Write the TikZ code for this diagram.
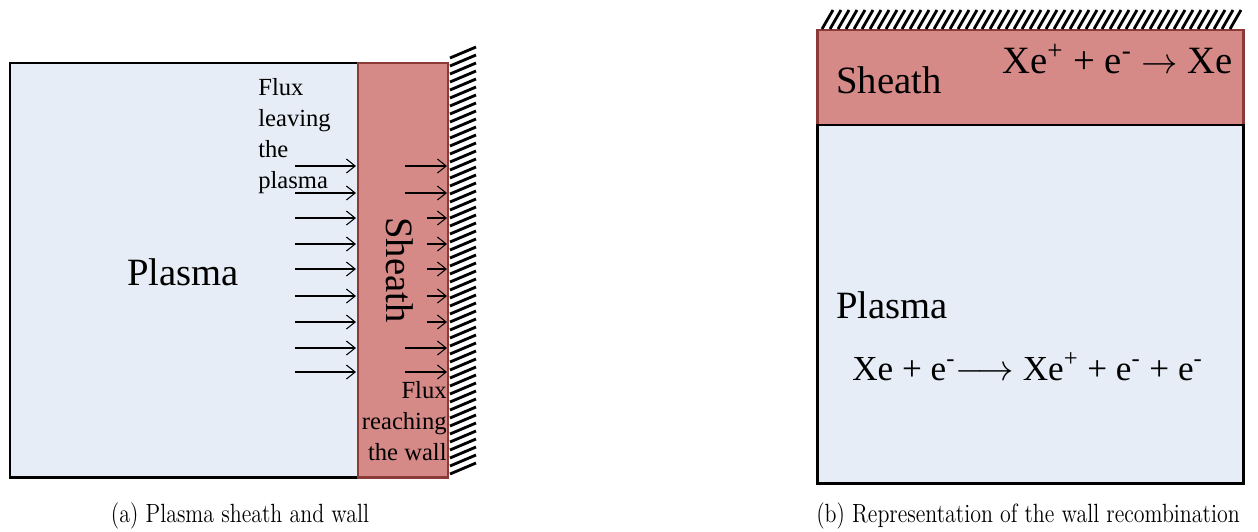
\documentclass[tikz,border=0pt]{standalone}
\usepackage{fontspec}
\usepackage{graphicx}
\newfontfamily\timesfont{Liberation Serif}
\usetikzlibrary{arrows.meta}
\definecolor{plasmablue}{RGB}{230,237,246}
\definecolor{sheathred}{RGB}{214,138,136}
\definecolor{sheathedge}{RGB}{140,58,56}
\tikzset{
	x=0.02cm, y=-0.02cm,
	>={Straight Barb[length=5pt,width=8pt]},
	plasma/.style={fill=plasmablue, draw=black, line width=1.7pt},
	sheath/.style={fill=sheathred, draw=sheathedge, line width=1.7pt},
	hatch/.style={line width=1.6pt},
	flux/.style={->, line width=0.6pt},
	big/.style={font=\timesfont\fontsize{22}{26}\selectfont, inner sep=0pt},
	small/.style={font=\timesfont\fontsize{14}{17.6}\selectfont, inner sep=0pt},
	caption/.style={font=\fontsize{12.5}{15}\selectfont}}

\begin{document}
\begin{tikzpicture}

		\useasboundingbox (0,0) rectangle (1258,531);

		% (a) plasma, sheath and wall
		\draw[plasma] (10,63) rectangle (358,477);
		\draw[sheath] (358,63) rectangle (448,477);
		\foreach \y in {58,66,...,474}
			\draw[hatch] (450,\y) -- (476,\y-11);

		\foreach \y [count=\i] in {166,193,218,244,269,296,322,348,372} {
			\coordinate (la\i) at (295,\y);
			\coordinate (lb\i) at (356,\y);
			\draw[flux] (la\i) -- (lb\i);
		}
		\foreach \y/\s [count=\i] in {166/405,193/405,218/427,244/427,269/427,296/427,322/427,348/405,372/405} {
			\coordinate (ra\i) at (\s,\y);
			\coordinate (rb\i) at (447,\y);
			\draw[flux] (ra\i) -- (rb\i);
		}

		\node[big] (plasmaA) at (183,272) {Plasma};
		\node[big, rotate=-90] (sheathA) at (400,270) {Sheath};
		\node[small, align=left, anchor=north west] (leaving) at (258,78) {Flux\\leaving\\the\\plasma};
		\node[small, align=right, anchor=north east] (reaching) at (447,381) {Flux\\reaching\\the wall};

		% (b) wall recombination
		\draw[sheath] (817,30) rectangle (1243,125);
		\draw[plasma] (817,125) rectangle (1243,483);
		\foreach \x in {822,830,...,1234}
			\draw[hatch] (\x,29) -- (\x+11,10);

		\node[big, anchor=base west] (sheathB) at (836,93) {Sheath};
		\node[big, anchor=base west] (recomb) at (1002,73) {Xe\textsuperscript{+} + e\textsuperscript{-} $\rightarrow$\ Xe};
		\node[big, anchor=base west] (plasmaB) at (836,318) {Plasma};
		\node[big, anchor=base west, font=\timesfont\fontsize{20}{24}\selectfont] (ioniz) at (852,380) {Xe + e\textsuperscript{-}$\longrightarrow$ Xe\textsuperscript{+} + e\textsuperscript{-} + e\textsuperscript{-}};

		\node[caption] (capA) at (240,516) {\scalebox{1}[1.2]{(a) Plasma sheath and wall}};
		\node[caption] (capB) at (1028,516) {\scalebox{1}[1.2]{(b) Representation of the wall recombination}};

\end{tikzpicture}
\end{document}
